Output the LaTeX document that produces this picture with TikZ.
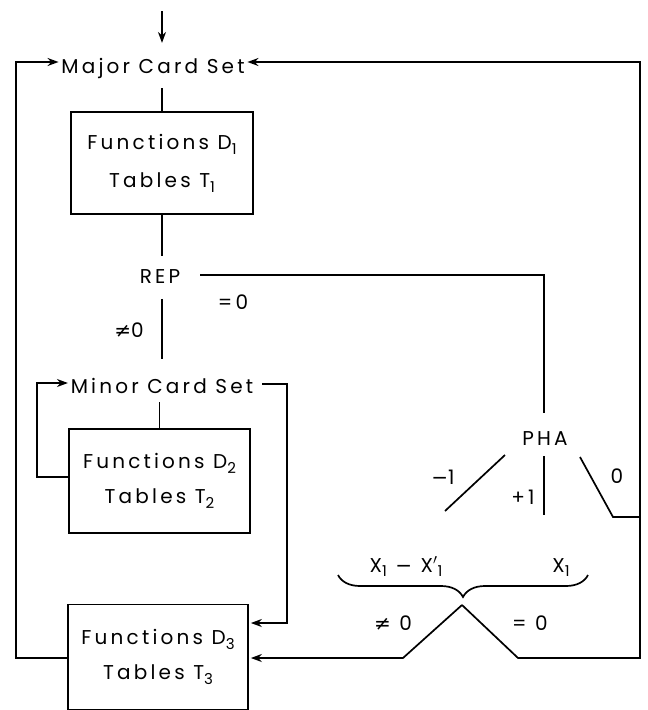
\documentclass[tikz,border=0pt]{standalone}
\usepackage{fontspec}
\setmainfont{Poppins}[LetterSpace=16]
\newfontfamily\symfont{DejaVu Sans}
\usetikzlibrary{arrows.meta,decorations.pathreplacing}
% lowered index for D, T and X
\newcommand\idx[1]{\raisebox{-0.45ex}{\fontsize{15}{15}\selectfont #1}}
\newcommand\nq{{\symfont ≠}}
\newcommand\mn{{\symfont −}}
\begin{document}
\begin{tikzpicture}[x=1pt,y=-1pt,line width=1.7pt,
  >={Stealth[length=11pt,width=8pt]},
  lbl/.style={font=\fontsize{20}{22}\selectfont,inner sep=0pt,anchor=base},
  box/.style={draw,rectangle,inner sep=0pt,align=center}]
\useasboundingbox (0,0) rectangle (648,710);

% card sets and decision points
\node[lbl] (major) at (153,73) {Major Card Set};
\node[lbl] (rep)   at (160,283) {REP};
\node[lbl] (minor) at (162,393) {Minor Card Set};
\node[lbl] (pha)   at (545,445) {PHA};

% processing boxes
\node[box,minimum width=182pt,minimum height=102pt,font=\fontsize{20}{38}\selectfont] (b1) at (162,163)
  {Functions D\idx{1}\\Tables T\idx{1}};
\node[box,minimum width=181pt,minimum height=104pt,font=\fontsize{20}{35}\selectfont] (b2) at (159.5,481)
  {Functions D\idx{2}\\Tables T\idx{2}};
\node[box,minimum width=180pt,minimum height=105pt,font=\fontsize{20}{35}\selectfont] (b3) at (158,657)
  {Functions D\idx{3}\\Tables T\idx{3}};

% branch labels
\node[lbl] (l1) at (233,309) {=0};
\node[lbl] (l2) at (129,337) {\nq0};
\node[lbl] (l3) at (443,484) {\mn1};
\node[lbl] (l4) at (523,504) {+1};
\node[lbl] (l5) at (617,483) {0};
\node[lbl] (l6) at (406,572) {X\idx{1} \mn{} X$'$\idx{1}};
\node[lbl] (l7) at (561,572) {X\idx{1}};
\node[lbl] (l8) at (393,630) {\nq{} 0};
\node[lbl] (l9) at (530,630) {= 0};

% junction points
\coordinate (start) at (162,11);
\coordinate (lc)  at (16,62);
\coordinate (rc)  at (640,62);
\coordinate (rb)  at (640,658);
\coordinate (pj)  at (640,517);
\coordinate (pk)  at (613,517);
\coordinate (p0)  at (580,457);
\coordinate (pma) at (505,455);
\coordinate (pmb) at (445,511);
\coordinate (ppa) at (544,456);
\coordinate (ppb) at (544,515);
\coordinate (rl)  at (200,275);
\coordinate (rr)  at (544,275);
\coordinate (pt)  at (544,413);
\coordinate (apex) at (462,605);
\coordinate (vl)  at (403,658);
\coordinate (vr)  at (518,658);
\coordinate (mr)  at (287,384);
\coordinate (ml)  at (37,477);
\coordinate (mlt) at (37,383);
\coordinate (mra) at (262,384);

% entry
\draw[->] (start) -- (start |- major.north) [shorten >=14pt];
% major set to first box, first box to REP
\draw ([yshift=-9pt]major.south -| b1.north) -- (b1.north);
\draw (b1.south) -- ([yshift=12pt]b1.south |- rep.north);
% REP branches
\draw ([yshift=-15pt]rep.south -| b1.south) -- ([yshift=18pt]b1.south |- minor.north);
\draw (rl) -- (rr) -- (pt);
% minor set loop
\draw ([yshift=-8pt]minor.south -| b2.north) -- (b2.north);
\draw[->] ([yshift=4pt]b2.west) -- (ml) -- (mlt) -- ([xshift=-2pt]mlt -| minor.west);
\draw[->] (mra) -- (mr) -- (mr |- 0,623) -- ([xshift=2pt]b3.east |- 0,623);
% PHA branches
\draw (pma) -- (pmb);
\draw (ppa) -- (ppb);
\draw (p0) -- (pk) -- (pj);
% X test
\draw[decorate,decoration={brace,mirror,amplitude=22pt}] (338,575) -- (588,575);
\draw[->] (apex) -- (vl) -- ([xshift=2pt]b3.east |- vl);
\draw[->] (apex) -- (vr) -- (rb) -- (rc) -- ([xshift=2pt]major.east |- rc);
% return from third box
\draw[->] (b3.west |- rb) -- (lc |- rb) -- (lc) -- ([xshift=-2pt]major.west |- lc);
\end{tikzpicture}
\end{document}
